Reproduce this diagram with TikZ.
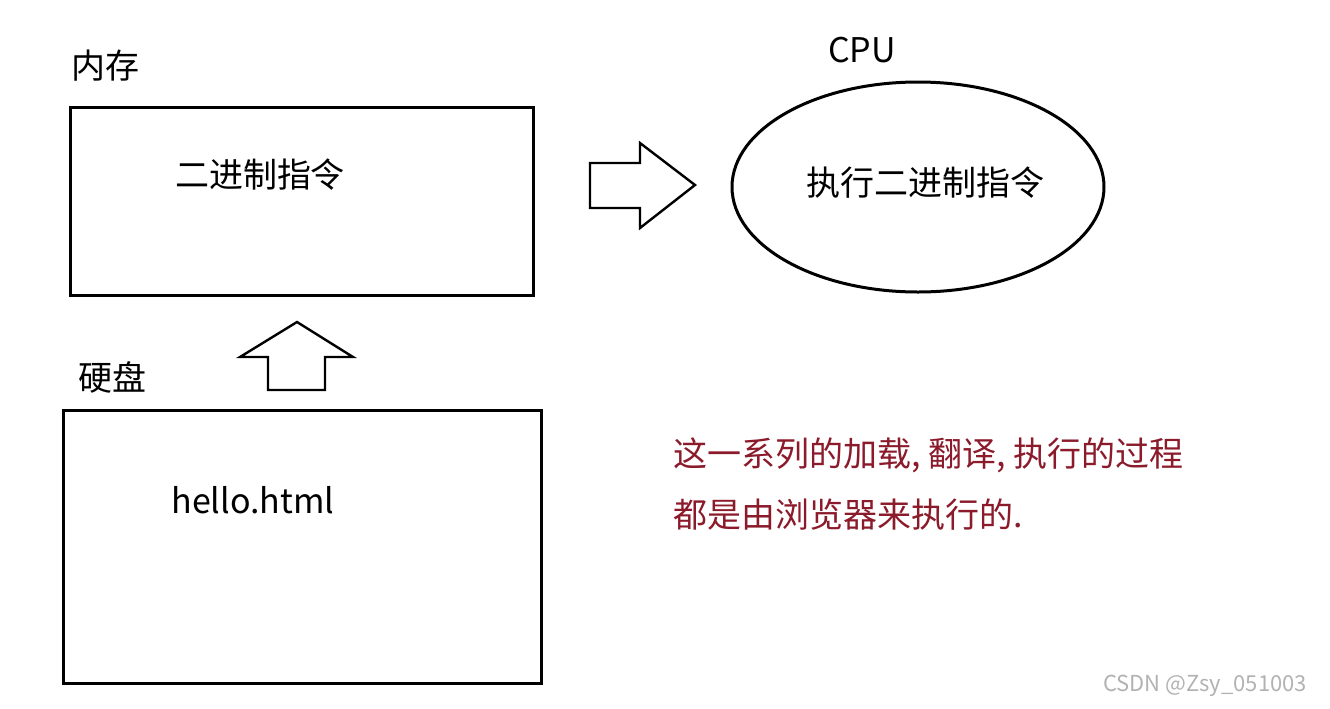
\documentclass[tikz,border=0pt]{standalone}
\usepackage{fontspec}
\setmainfont{Noto Sans CJK SC}
\usetikzlibrary{positioning}
\definecolor{notered}{HTML}{8B1A2B}
\tikzset{
  box/.style={draw, line width=1.5pt},
  lbl/.style={font=\fontsize{17}{20}\selectfont, inner sep=0pt},
  fat/.style={draw, line width=1.2pt, line join=miter}
  }
\begin{document}
\begin{tikzpicture}[x=0.5pt, y=-0.5pt]
    \useasboundingbox (0,0) rectangle (1330,708);

    % memory and disk
    \node [lbl] (memlbl) at (105,66) {内存};
    \draw [box] (70,107) rectangle (533,295);
    \node [lbl] (mem) at (260,175) {二进制指令};
    \node [lbl] (disklbl) at (112,377) {硬盘};
    \draw [box] (63,410) rectangle (541,683);
    \node [lbl] (disk) at (253,500) {hello.html};

    % cpu
    \node [lbl] (cpulbl) at (862,50) {CPU};
    \draw [box] (918,187) ellipse [x radius=186, y radius=105];
    \node [lbl] (cpu) at (925,183) {执行二进制指令};

    % block arrows
    \draw [fat] (590,163) -- (640,163) -- (640,143) -- (695,185)
        -- (640,228) -- (640,208) -- (590,208) -- cycle;
    \draw [fat] (268,390) -- (268,357) -- (240,357) -- (297,322)
        -- (353,357) -- (325,357) -- (325,390) -- cycle;

    % note
    \node [lbl, text=notered, anchor=west] (note1) at (673,455) {这一系列的加载, 翻译, 执行的过程};
    \node [lbl, text=notered, anchor=west] (note2) at (673,515) {都是由浏览器来执行的.};

    \node [font=\fontsize{11}{13}\selectfont, text=gray!60, inner sep=0pt] (mark) at (1205,686) {CSDN @Zsy\_051003};
\end{tikzpicture}
\end{document}
